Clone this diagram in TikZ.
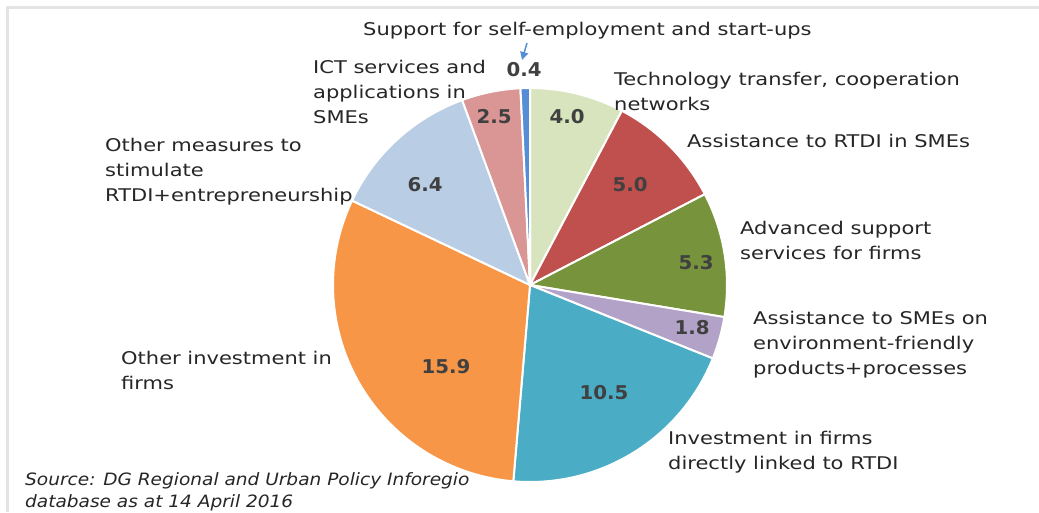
\documentclass[tikz,border=0pt]{standalone}
\usepackage{fontspec}
\setmainfont{DejaVu Sans}
\newfontfamily\labfont[FakeStretch=1.2]{DejaVu Sans}
\newfontfamily\srcfont[FakeStretch=1.09]{DejaVu Sans}
\newfontfamily\valfont[FakeStretch=1.04]{DejaVu Sans}
\usetikzlibrary{arrows.meta}
\definecolor{cA}{HTML}{D7E4BD}
\definecolor{cB}{HTML}{C0504D}
\definecolor{cC}{HTML}{77933C}
\definecolor{cD}{HTML}{B3A2C7}
\definecolor{cE}{HTML}{4BACC6}
\definecolor{cF}{HTML}{F79646}
\definecolor{cG}{HTML}{B9CDE5}
\definecolor{cH}{HTML}{D99694}
\definecolor{cI}{HTML}{558ED5}
\definecolor{txt}{HTML}{262626}
\definecolor{num}{HTML}{404040}
\definecolor{frame}{HTML}{E4E4E4}
\begin{document}
\begin{tikzpicture}[x=1pt,y=1pt,
  lab/.style={align=left,anchor=west,inner sep=0pt,text=txt,font=\labfont\fontsize{17.5}{25}\selectfont},
  val/.style={inner sep=0pt,text=num,font=\valfont\fontsize{19}{22}\selectfont\bfseries},
  slice/.style={draw=white,line width=2pt,line join=round}]
\useasboundingbox (0,0) rectangle (1039,512);
\fill[white] (0,0) rectangle (1039,512);
\draw[frame,line width=3pt] (7,0) -- (7,504) -- (1039,504);
\coordinate (c) at (530,227);
\def\r{197}
\foreach \a/\b/\col in {90/62.20/cA, 62.20/27.45/cB, 27.45/-9.38/cC, -9.38/-21.89/cD, -21.89/-94.86/cE, -94.86/-205.37/cF, -205.37/-249.85/cG, -249.85/-267.22/cH, -267.22/-270/cI}
  \filldraw[slice,fill=\col] (c) -- ++(\a:\r) arc[start angle=\a,end angle=\b,radius=\r] -- cycle;
% values
\node[val] (v04) at (524,442) {0.4};
\node[val] (v25) at (494,395) {2.5};
\node[val] (v40) at (567,395) {4.0};
\node[val] (v50) at (630,327) {5.0};
\node[val] (v53) at (696,249) {5.3};
\node[val] (v18) at (692,184) {1.8};
\node[val] (v105) at (604,119) {10.5};
\node[val] (v159) at (446,145) {15.9};
\node[val] (v64) at (425,327) {6.4};
% labels
\node[lab] (lsup) at (363,481) {Support for self-employment and start-ups};
\node[lab] (lict) at (313,420) {ICT services and\\applications in\\SMEs};
\node[lab] (ltec) at (614,421) {Technology transfer, cooperation\\networks};
\node[lab] (lrtdi) at (687,371) {Assistance to RTDI in SMEs};
\node[lab] (ladv) at (740,272) {Advanced support\\services for firms};
\node[lab] (lenv) at (753,167) {Assistance to SMEs on\\environment-friendly\\products+processes};
\node[lab] (linv) at (668,60) {Investment in firms\\directly linked to RTDI};
\node[lab] (loth) at (121,142) {Other investment in\\firms};
\node[lab] (lmeas) at (105,340) {Other measures to\\stimulate\\RTDI+entrepreneurship};
\node[lab,font=\srcfont\fontsize{17}{22}\selectfont\itshape] (lsrc) at (25,20) {Source: DG Regional and Urban Policy Inforegio\\database as at 14 April 2016};
% arrow
\coordinate (atail) at (527,469);
\coordinate (ahead) at (522,452);
\draw[cI,line width=1.5pt,-{Triangle[length=8pt,width=8pt]}] (atail) -- (ahead);
\end{tikzpicture}
\end{document}
